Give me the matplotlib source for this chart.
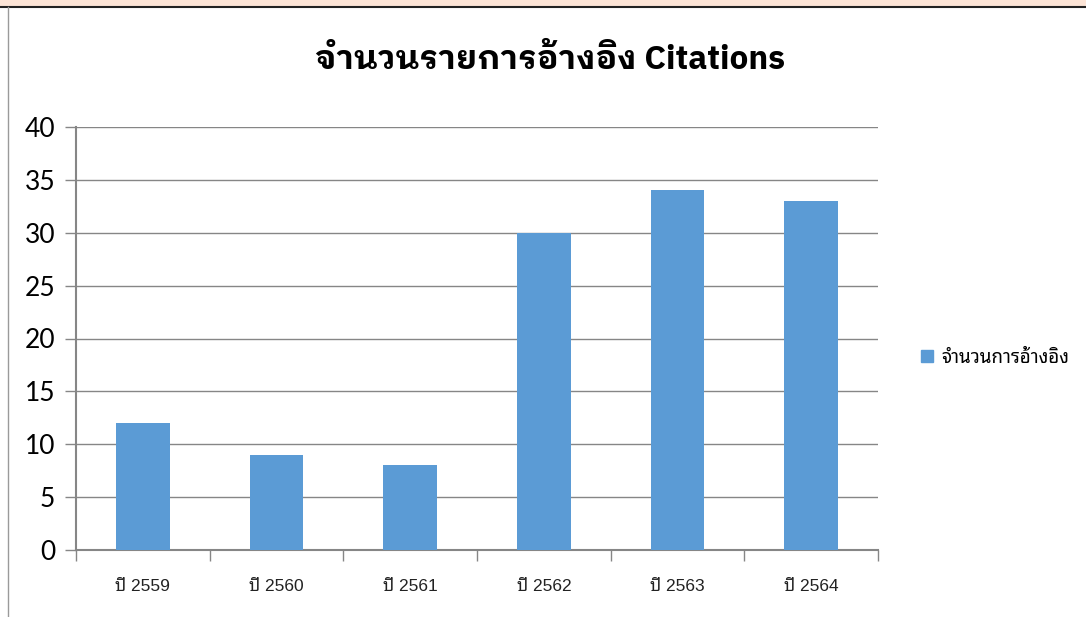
import matplotlib
matplotlib.use("Agg")
import matplotlib.pyplot as plt
from matplotlib.patches import Rectangle
from matplotlib.lines import Line2D

categories = ["ปี 2559", "ปี 2560", "ปี 2561", "ปี 2562", "ปี 2563", "ปี 2564"]
values = [12, 9, 8, 30, 34, 33]
series_name = "จำนวนการอ้างอิง"
title = "จำนวนรายการอ้างอิง Citations"
yticks = [0, 5, 10, 15, 20, 25, 30, 35, 40]

bar_color = "#5B9BD5"
grid_color = "#868686"
thai = ["Liberation Sans", "Noto Sans Thai Looped", "DejaVu Sans"]

fig = plt.figure(figsize=(10.86, 6.17), dpi=100)
fig.patch.set_facecolor("white")

# top band and frame lines
fig.add_artist(Rectangle((0, 1 - 6 / 617), 1, 6 / 617, transform=fig.transFigure,
                         facecolor="#FCE4D6", edgecolor="none"))
fig.add_artist(Line2D([0, 1], [1 - 7 / 617, 1 - 7 / 617], transform=fig.transFigure,
                      color="#222222", lw=1.5))
fig.add_artist(Line2D([7.5 / 1086, 7.5 / 1086], [0, 1 - 7 / 617], transform=fig.transFigure,
                      color="#9a9a9a", lw=1))

ax = fig.add_axes([76 / 1086, 1 - 550 / 617, (878 - 76) / 1086, (550 - 127) / 617])
x = list(range(len(categories)))
ax.bar(x, values, width=0.4, color=bar_color, zorder=3, label=series_name)
ax.set_xlim(-0.5, len(categories) - 0.5)
ax.set_ylim(0, 40)
ax.set_yticks(yticks)
ax.set_yticklabels([str(t) for t in yticks], fontsize=19, family="Lato")
ax.yaxis.grid(True, color=grid_color, lw=1, zorder=0)
ax.set_axisbelow(True)

ax.set_xticks(x)
ax.set_xticklabels(categories, fontsize=12.5, family=thai, color="#222222")
ax.tick_params(axis="x", length=0, pad=21)
ax.set_xticks([i - 0.5 for i in range(len(categories) + 1)], minor=True)
ax.tick_params(axis="x", which="minor", length=8, color=grid_color, width=1)
ax.tick_params(axis="y", length=8, color=grid_color, width=1, pad=7)

for s in ["top", "right"]:
    ax.spines[s].set_visible(False)
ax.spines["left"].set_color(grid_color)
ax.spines["bottom"].set_color(grid_color)
ax.spines["bottom"].set_linewidth(1.5)
ax.spines["left"].set_linewidth(1.5)

fig.text(550 / 1086, 1 - 60 / 617, title, ha="center", va="center", fontsize=24,
         fontweight="bold", family=["IBM Plex Sans Thai Looped", "DejaVu Sans"])

leg = fig.legend(handles=[Rectangle((0, 0), 1, 1, color=bar_color)], labels=[series_name],
                 loc="center left", bbox_to_anchor=(904 / 1086, 1 - 358 / 617),
                 frameon=False, prop={"family": thai, "size": 13.5},
                 handlelength=0.65, handleheight=0.65, handletextpad=0.45)

fig.savefig("out.png", dpi=100)
